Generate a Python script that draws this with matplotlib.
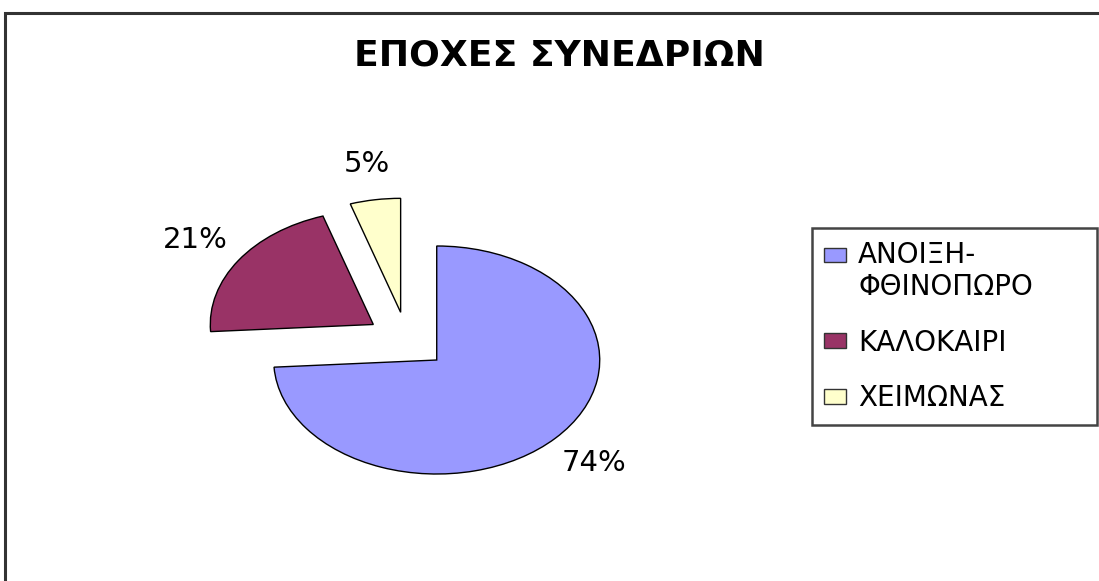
import matplotlib.pyplot as plt
from matplotlib.patches import Rectangle
from matplotlib.legend_handler import HandlerPatch

# data
seasons = ['ΑΝΟΙΞΗ-\nΦΘΙΝΟΠΩΡΟ', 'ΚΑΛΟΚΑΙΡΙ', 'ΧΕΙΜΩΝΑΣ']
shares = [74, 21, 5]
colors = ['#9999FF', '#993366', '#FFFFCC']

plt.rcParams['font.family'] = ['DejaVu Sans']

fig = plt.figure(figsize=(10.99, 5.81), dpi=100)

# outer frame of the chart area (runs off right/bottom edge like the original)
fig.patches.append(Rectangle((5 / 1099, -0.1), 1.2, 1.1 - 13 / 581,
                             transform=fig.transFigure, fill=False,
                             edgecolor='#333333', linewidth=2.2))

ax = fig.add_axes([0.0737, 0.0215, 0.5933, 0.7849])
wedges, texts, autotexts = ax.pie(
    shares, colors=colors, startangle=90, counterclock=False,
    explode=[0.25] * len(shares), autopct='%.0f%%', pctdistance=1.32,
    wedgeprops=dict(edgecolor='black', linewidth=1.0),
    textprops=dict(fontsize=21, color='black'))
ax.set_aspect('auto')
ax.set_xlim(-2, 2)
ax.set_ylim(-2, 2)
ax.axis('off')

fig.text(0.5087, 1 - 65 / 581, 'ΕΠΟΧΕΣ ΣΥΝΕΔΡΙΩΝ', ha='center', va='baseline',
         fontsize=26, fontweight='bold')


# first legend label has two lines; keep its box next to the first line
def top_line_patch(legend, orig_handle, xdescent, ydescent, width, height, fontsize):
    return Rectangle((-xdescent, -ydescent + 0.6 * fontsize), width, height)


leg = fig.legend(wedges, seasons, loc='upper left',
                 bbox_to_anchor=(812 / 1099, 0.0, 285 / 1099, 1 - 228 / 581),
                 mode='expand', borderaxespad=0, fontsize=20,
                 handlelength=0.76, handleheight=0.43, handletextpad=0.45,
                 labelspacing=1.0, borderpad=0.45, fancybox=False,
                 edgecolor='#444444', framealpha=1,
                 handler_map={wedges[0]: HandlerPatch(patch_func=top_line_patch)})
leg.get_frame().set_linewidth(1.8)
for h in leg.legend_handles:
    h.set_edgecolor('#333333')
    h.set_linewidth(1.0)

fig.savefig('out.png', dpi=100)
